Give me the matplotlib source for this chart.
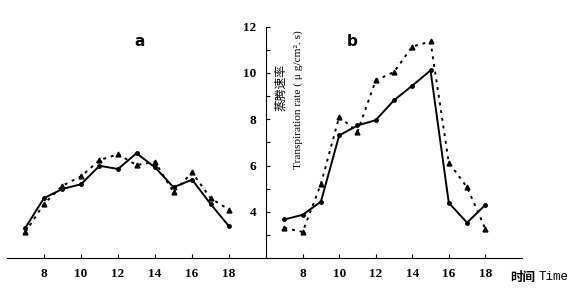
import matplotlib
matplotlib.use("Agg")
import matplotlib.pyplot as plt

hours = [7, 8, 9, 10, 11, 12, 13, 14, 15, 16, 17, 18]

# panel a
a_solid = [3.31, 4.59, 4.99, 5.19, 5.99, 5.85, 6.53, 5.92, 5.06, 5.39, 4.34, 3.37]
a_dash = [3.13, 4.34, 5.13, 5.53, 6.23, 6.49, 6.02, 6.16, 4.85, 5.70, 4.59, 4.09]

# panel b
b_solid = [3.67, 3.87, 4.44, 7.30, 7.73, 7.96, 8.82, 9.45, 10.11, 4.39, 3.53, 4.30]
b_dash = [3.31, 3.13, 5.20, 8.11, 7.46, 9.68, 10.04, 11.14, 11.36, 6.13, 5.06, 3.27]

xticks = [8, 10, 12, 14, 16, 18]

plt.rcParams['font.family'] = ['Liberation Serif', 'Noto Sans CJK SC']

fig = plt.figure(figsize=(5.76, 2.9), dpi=100)
ax_a = fig.add_axes([0.012, 0.110, 0.450, 0.798])
ax_b = fig.add_axes([0.462, 0.110, 0.444, 0.798])

for ax, s, d in [(ax_a, a_solid, a_dash), (ax_b, b_solid, b_dash)]:
    ax.plot(hours, s, color='black', lw=1.4, marker='o', ms=2.5)
    ax.plot(hours, d, color='black', lw=1.4, ls=(0, (1.5, 2.5)), marker='^', ms=3.5)
    ax.set_xlim(6, 20)
    ax.set_ylim(2, 12)
    ax.set_xticks(xticks)
    ax.tick_params(direction='in', length=3, labelsize=9.5, pad=7)
    for sp in ['top', 'right']:
        ax.spines[sp].set_visible(False)

ax_a.spines['left'].set_visible(False)
ax_a.set_yticks([])

ax_b.set_yticks(range(3, 13))
ax_b.set_yticklabels(['' if v % 2 else str(v) for v in range(3, 13)])

for ax in (ax_a, ax_b):
    for lab in ax.get_xticklabels() + ax.get_yticklabels():
        lab.set_fontweight('bold')

ax_a.text(0.511, 0.97, 'a', transform=ax_a.transAxes, fontsize=11,
          fontweight='bold', family='DejaVu Sans', ha='center', va='top')
ax_b.text(0.336, 0.97, 'b', transform=ax_b.transAxes, fontsize=11,
          fontweight='bold', family='DejaVu Sans', ha='center', va='top')

fig.text(281 / 576, 1 - 88 / 290, '蒸腾速率', rotation=90, fontsize=8.5,
         family=['Noto Sans CJK SC'], ha='center', va='center')
fig.text(298 / 576, 1 - 100 / 290, 'Transpiration rate ( μ g/cm². s)',
         rotation=90, fontsize=8.2, ha='center', va='center')

fig.text(510 / 576, 1 - 277 / 290, '时间', fontsize=9, fontweight='bold',
         family=['Noto Sans CJK SC'], ha='left', va='center')
fig.text(539 / 576, 1 - 277 / 290, 'Time', fontsize=9,
         family='Liberation Mono', ha='left', va='center')

fig.savefig('out.png', dpi=100)
